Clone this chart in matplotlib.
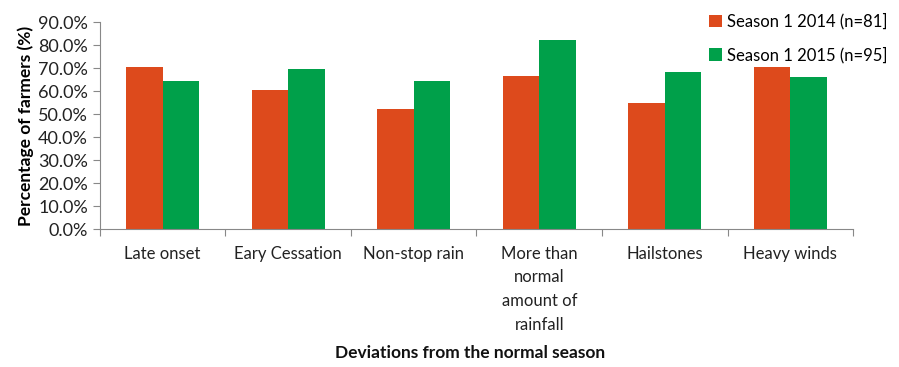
import numpy as np
import matplotlib.pyplot as plt
from matplotlib.ticker import PercentFormatter

plt.rcParams['font.family'] = ['Lato', 'DejaVu Sans']

# Dữ liệu
categories = ['Late onset', 'Eary Cessation', 'Non-stop rain',
              'More than\nnormal\namount of\nrainfall', 'Hailstones', 'Heavy winds']
season_2014 = [70.4, 60.4, 52.2, 66.7, 54.6, 70.6]
season_2015 = [64.3, 69.6, 64.3, 82.2, 68.4, 66.2]
labels = ['Season 1 2014 (n=81]', 'Season 1 2015 (n=95]']

red = '#DD4A1C'
green = '#00A04A'

fig = plt.figure(figsize=(8.99, 3.67), dpi=100)
ax = fig.add_axes([0.111, 0.376, 0.838, 0.564])

x = np.arange(len(categories))
w = 0.29
ax.bar(x - w / 2, season_2014, w, color=red, label=labels[0])
ax.bar(x + w / 2, season_2015, w, color=green, label=labels[1])

ax.set_xlim(-0.5, len(categories) - 0.5)
ax.set_ylim(0, 90)
ax.set_yticks(np.arange(0, 91, 10))
ax.yaxis.set_major_formatter(PercentFormatter(decimals=1))
ax.set_xticks(np.arange(-0.5, len(categories), 1.0), minor=False)
ax.set_xticklabels([])
ax.set_xticks(x, minor=True)
ax.set_xticklabels(categories, minor=True, fontsize=12, color='#222222',
                   va='top', linespacing=1.6)
ax.tick_params(axis='x', which='minor', length=0, pad=12)
ax.tick_params(axis='x', which='major', length=5, color='#888888', direction='out')
ax.tick_params(axis='y', length=5, color='#888888', labelsize=13, labelcolor='#222222')

for s in ['top', 'right']:
    ax.spines[s].set_visible(False)
for s in ['left', 'bottom']:
    ax.spines[s].set_color('#888888')

ax.set_ylabel('Percentage of farmers (%)', fontsize=12.5, fontweight='bold', labelpad=3)
fig.text(0.523, 0.025, 'Deviations from the normal season', ha='center',
         fontsize=12.5, fontweight='bold', color='#111111')

ax.legend(loc='upper left', bbox_to_anchor=(0.774, 1.0), bbox_transform=fig.transFigure,
          frameon=False, fontsize=12, handlelength=0.8, handleheight=0.8,
          handletextpad=0.3, labelspacing=1.0, borderaxespad=0.4)

fig.savefig('out.png', dpi=100)
